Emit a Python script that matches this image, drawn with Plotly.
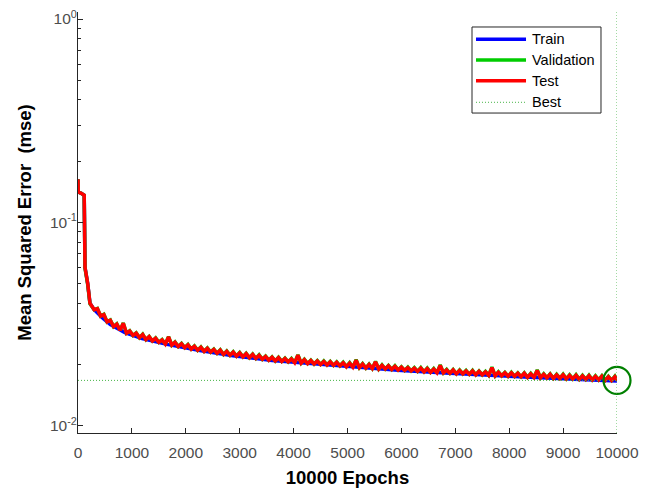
import plotly.graph_objects as go

# ---------------- data ----------------
x_ticks = [0, 1000, 2000, 3000, 4000, 5000, 6000, 7000, 8000, 9000, 10000]
x_tick_text = ["0", "1000", "2000", "3000", "4000", "5000", "6000", "7000",
               "8000", "9000", "10000"]
y_major = [0.01, 0.1, 1]
y_major_text = ["10<sup>-2</sup>", "10<sup>-1</sup>", "10<sup>0</sup>"]
y_minor = [0.02, 0.03, 0.04, 0.05, 0.06, 0.07, 0.08, 0.09,
           0.2, 0.3, 0.4, 0.5, 0.6, 0.7, 0.8, 0.9]

series_names = ["Train", "Validation", "Test", "Best"]

# training curve (smooth)
train_epochs = [0, 5, 60, 115, 130, 180, 222, 300, 450, 600, 870, 1020, 1190,
                1430, 1650, 2260, 2875, 3600, 4500, 5230, 6000, 6900, 7600,
                8400, 9200, 10000]
train_mse = [0.163, 0.141, 0.139, 0.136, 0.0600, 0.0500, 0.0400, 0.0372,
             0.0340, 0.0314, 0.0287, 0.0278, 0.0268, 0.0259, 0.0251, 0.0234,
             0.0221, 0.0209, 0.0200, 0.0193, 0.0187, 0.0181, 0.0177, 0.0172,
             0.0169, 0.0166]

# validation / test curves (sampled every 60 epochs after epoch 300)
head_epochs = [0, 5, 60, 115, 130, 180, 222, 260]
tail_epochs = list(range(300, 10000, 60)) + [10000]
vt_epochs = head_epochs + tail_epochs

test_mse = [0.163, 0.141, 0.139, 0.136, 0.0600, 0.0500, 0.0400, 0.0385,
    0.0372, 0.0376, 0.0346, 0.0352, 0.0324, 0.0330, 0.0307, 0.0316, 0.0295, 0.0319,
    0.0285, 0.0292, 0.0278, 0.0285, 0.0271, 0.0281, 0.0265, 0.0274, 0.0261, 0.0269,
    0.0257, 0.0264, 0.0252, 0.0273, 0.0249, 0.0257, 0.0245, 0.0253, 0.0242, 0.0250,
    0.0238, 0.0246, 0.0235, 0.0243, 0.0232, 0.0240, 0.0230, 0.0237, 0.0227, 0.0235,
    0.0224, 0.0232, 0.0222, 0.0230, 0.0220, 0.0228, 0.0218, 0.0226, 0.0216, 0.0224,
    0.0214, 0.0222, 0.0212, 0.0219, 0.0210, 0.0217, 0.0208, 0.0216, 0.0207, 0.0214,
    0.0206, 0.0213, 0.0204, 0.0222, 0.0203, 0.0211, 0.0202, 0.0209, 0.0201, 0.0208,
    0.0200, 0.0207, 0.0199, 0.0206, 0.0198, 0.0205, 0.0197, 0.0204, 0.0195, 0.0203,
    0.0194, 0.0210, 0.0193, 0.0201, 0.0192, 0.0200, 0.0191, 0.0206, 0.0190, 0.0198,
    0.0190, 0.0197, 0.0189, 0.0196, 0.0188, 0.0194, 0.0187, 0.0193, 0.0186, 0.0192,
    0.0185, 0.0192, 0.0184, 0.0191, 0.0183, 0.0190, 0.0182, 0.0198, 0.0182, 0.0188,
    0.0181, 0.0188, 0.0180, 0.0187, 0.0180, 0.0186, 0.0179, 0.0186, 0.0178, 0.0185,
    0.0178, 0.0184, 0.0177, 0.0193, 0.0176, 0.0183, 0.0176, 0.0182, 0.0175, 0.0182,
    0.0175, 0.0181, 0.0174, 0.0181, 0.0173, 0.0180, 0.0173, 0.0187, 0.0172, 0.0179,
    0.0172, 0.0179, 0.0171, 0.0178, 0.0171, 0.0178, 0.0170, 0.0177, 0.0170, 0.0177,
    0.0169, 0.0176, 0.0169, 0.0176, 0.0168, 0.0175, 0.0168, 0.0175, 0.0167, 0.0174,
    0.0167, 0.0174, 0.0167]

val_mse = [0.163, 0.141, 0.139, 0.136, 0.0595, 0.0495, 0.0397, 0.0383,
    0.0372, 0.0377, 0.0346, 0.0353, 0.0324, 0.0331, 0.0307, 0.0317, 0.0295, 0.0320,
    0.0285, 0.0293, 0.0278, 0.0286, 0.0271, 0.0282, 0.0265, 0.0275, 0.0261, 0.0270,
    0.0257, 0.0265, 0.0252, 0.0274, 0.0249, 0.0258, 0.0245, 0.0254, 0.0242, 0.0251,
    0.0238, 0.0247, 0.0235, 0.0244, 0.0232, 0.0241, 0.0230, 0.0238, 0.0227, 0.0236,
    0.0224, 0.0233, 0.0222, 0.0231, 0.0220, 0.0229, 0.0218, 0.0227, 0.0216, 0.0225,
    0.0214, 0.0223, 0.0212, 0.0220, 0.0210, 0.0218, 0.0208, 0.0217, 0.0207, 0.0215,
    0.0206, 0.0214, 0.0204, 0.0223, 0.0203, 0.0212, 0.0202, 0.0210, 0.0201, 0.0209,
    0.0200, 0.0208, 0.0199, 0.0207, 0.0198, 0.0206, 0.0197, 0.0205, 0.0195, 0.0204,
    0.0194, 0.0211, 0.0193, 0.0202, 0.0192, 0.0201, 0.0191, 0.0207, 0.0190, 0.0199,
    0.0190, 0.0198, 0.0189, 0.0197, 0.0188, 0.0195, 0.0187, 0.0194, 0.0186, 0.0193,
    0.0185, 0.0193, 0.0184, 0.0192, 0.0183, 0.0191, 0.0182, 0.0199, 0.0182, 0.0189,
    0.0181, 0.0189, 0.0180, 0.0188, 0.0180, 0.0187, 0.0179, 0.0187, 0.0178, 0.0186,
    0.0178, 0.0185, 0.0177, 0.0194, 0.0176, 0.0184, 0.0176, 0.0183, 0.0175, 0.0183,
    0.0175, 0.0182, 0.0174, 0.0182, 0.0173, 0.0181, 0.0173, 0.0188, 0.0172, 0.0180,
    0.0172, 0.0180, 0.0171, 0.0179, 0.0171, 0.0179, 0.0170, 0.0178, 0.0170, 0.0178,
    0.0169, 0.0177, 0.0169, 0.0177, 0.0168, 0.0176, 0.0168, 0.0176, 0.0167, 0.0175,
    0.0167, 0.0175, 0.0167]

best_epoch = 10000
best_mse = 0.0167

# ---------------- styling ----------------
FONT = "Liberation Sans, Arial, sans-serif"
AX = "#262626"
TICKTXT = "#4d4d4d"
BEST_C = "rgb(70,180,70)"
BEST_DASH = "1px,2px"
C_TRAIN = "rgb(0,0,255)"
C_VAL = "rgb(0,204,0)"
C_TEST = "rgb(255,0,0)"
LW = 3.5

fig = go.Figure()
fig.add_trace(go.Scatter(x=train_epochs, y=train_mse, mode="lines", name=series_names[0],
                         showlegend=False, line=dict(color=C_TRAIN, width=LW)))
fig.add_trace(go.Scatter(x=vt_epochs, y=val_mse, mode="lines", name=series_names[1],
                         showlegend=False, line=dict(color=C_VAL, width=LW)))
fig.add_trace(go.Scatter(x=vt_epochs, y=test_mse, mode="lines", name=series_names[2],
                         showlegend=False, line=dict(color=C_TEST, width=LW)))
fig.add_trace(go.Scatter(x=[x_ticks[0], best_epoch], y=[best_mse, best_mse],
                         mode="lines", name=series_names[3], showlegend=False,
                         line=dict(color=BEST_C, width=1, dash=BEST_DASH)))
fig.add_trace(go.Scatter(x=[best_epoch], y=[best_mse], mode="markers",
                         showlegend=False, cliponaxis=False,
                         marker=dict(symbol="circle-open", size=27,
                                     line=dict(color="rgb(0,128,0)", width=2.2),
                                     color="rgb(0,128,0)")))

# vertical "best" line spanning the full axis height
fig.add_shape(type="line", xref="x", yref="paper", x0=best_epoch, x1=best_epoch,
              y0=0, y1=1, line=dict(color=BEST_C, width=1, dash=BEST_DASH))

# ---- legend box (MATLAB style) ----
leg_x0, leg_x1, leg_y0, leg_y1 = 0.731, 0.9703, 0.760, 0.9644
fig.add_shape(type="rect", xref="paper", yref="paper", x0=leg_x0, x1=leg_x1,
              y0=leg_y0, y1=leg_y1, line=dict(color=AX, width=1),
              fillcolor="white", layer="above")
leg_rows = [0.9352, 0.8860, 0.8368, 0.7855]
leg_styles = [dict(color=C_TRAIN, width=LW), dict(color=C_VAL, width=LW),
              dict(color=C_TEST, width=LW), dict(color=BEST_C, width=1, dash=BEST_DASH)]
for name, yy, st in zip(series_names, leg_rows, leg_styles):
    fig.add_shape(type="line", xref="paper", yref="paper", x0=0.7384, x1=0.8312,
                  y0=yy, y1=yy, line=st, layer="above")
    fig.add_annotation(xref="paper", yref="paper", x=0.8386, y=yy, text=name,
                       showarrow=False, xanchor="left", yanchor="middle",
                       font=dict(family=FONT, size=14.5, color="black"))

fig.update_layout(
    width=651, height=488, autosize=False,
    margin=dict(l=78, r=34, t=12, b=55),
    paper_bgcolor="white", plot_bgcolor="white",
    font=dict(family=FONT, color="black"),
    showlegend=False,
    xaxis=dict(range=[0, 10000], tickvals=x_ticks, ticktext=x_tick_text,
               ticks="inside", ticklen=5, automargin=False,
               tickcolor=AX, showline=True, linecolor=AX, linewidth=1,
               showgrid=False, zeroline=False,
               tickfont=dict(family=FONT, size=15.5, color=TICKTXT),
               ticklabelstandoff=5,
               title=dict(text="10000 Epochs", standoff=16,
                          font=dict(family=FONT, size=18.5, color="black", weight="bold"))),
    yaxis=dict(type="log", range=[-2.036, 0.0345], tickvals=y_major,
               ticktext=y_major_text, ticks="inside", ticklen=5, tickcolor=AX,
               showline=True, linecolor=AX, linewidth=1, showgrid=False,
               zeroline=False, automargin=False,
               minor=dict(tickvals=y_minor, ticks="inside", ticklen=3,
                          tickcolor=AX, showgrid=False),
               tickfont=dict(family=FONT, size=15.5, color=TICKTXT),
               ticklabelstandoff=-3,
               title=dict(text="Mean Squared Error \u00a0(mse)", standoff=13,
                          font=dict(family=FONT, size=18.5, color="black", weight="bold"))),
)

fig.write_html("out.html")
